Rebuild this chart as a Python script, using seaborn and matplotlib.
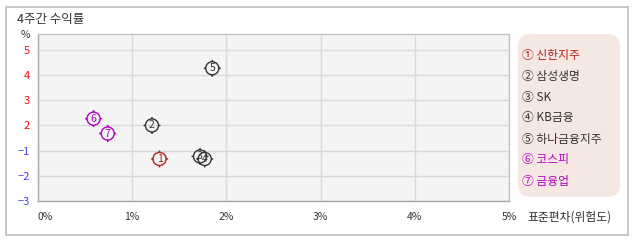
import numpy as np
import pandas as pd
import seaborn as sns
import matplotlib
matplotlib.use("Agg")
import matplotlib.pyplot as plt
from matplotlib.path import Path
from matplotlib.patches import Rectangle, FancyBboxPatch

# ---- data ----
labels = ["1", "2", "3", "4", "5", "6", "7"]
names = ["신한지주", "삼성생명", "SK", "KB금융", "하나금융지주", "코스피", "금융업"]
circled = ["①", "②", "③", "④", "⑤", "⑥", "⑦"]
risk = [1.29, 1.21, 1.72, 1.77, 1.85, 0.59, 0.74]        # 표준편차 (%)
ret = [-1.33, 2.0, -1.23, -1.33, 4.27, 2.27, 1.04]        # 4주간 수익률 (%)
colors = ["#b8201c", "#333333", "#333333", "#333333", "#333333", "#b400c4", "#b400c4"]
xticks = [0, 1, 2, 3, 4, 5]
xtick_labels = ["0%", "1%", "2%", "3%", "4%", "5%"]
yticks = [-3, -2, -1, 2, 3, 4, 5]
ytick_labels = ["−3", "−2", "−1", "2", "3", "4", "5"]

sns.set_style("white")
plt.rcParams["font.family"] = ["Noto Sans CJK KR", "DejaVu Sans"]

W, H = 638, 242
fig = plt.figure(figsize=(W / 100, H / 100), dpi=100)

def fx(x):
    return x / W

def fy(y):
    return 1 - y / H

# outer frame
fig.patches.append(Rectangle((fx(6), fy(235)), fx(622), 228 / H, transform=fig.transFigure,
                             fill=False, edgecolor="#bdbdbd", lw=1.2))

ax = fig.add_axes([fx(38), fy(201), fx(509 - 38), (201 - 34.3) / H])
ax.set_facecolor("#f4f4f4")

# y scale: -3..-1 and 2..5 evenly spaced, gap -1..2 compressed into one step
def fwd(v):
    v = np.asarray(v, dtype=float)
    return np.where(v >= 2, v - 2, np.where(v <= -1, v, -1 + (v + 1) / 3))

def inv(p):
    p = np.asarray(p, dtype=float)
    return np.where(p >= 0, p + 2, np.where(p <= -1, p, -1 + (p + 1) * 3))

ax.set_yscale("function", functions=(fwd, inv))

# marker: circle with four small ticks
circ = Path.unit_circle()
ticks = Path([(0, 1), (0, 1.3), (0, -1), (0, -1.3), (1, 0), (1.3, 0), (-1, 0), (-1.3, 0)],
             [Path.MOVETO, Path.LINETO] * 4)
marker = Path.make_compound_path(circ, ticks)

df = pd.DataFrame({"risk": risk, "ret": ret, "label": labels})
sns.scatterplot(data=df, x="risk", y="ret", hue="label", palette=colors, marker=marker,
                s=150, linewidth=1.0, legend=False, ax=ax, zorder=3)
coll = ax.collections[0]
coll.set_facecolors("none")
coll.set_edgecolors(colors)
coll.set_linewidths(1.0)
for x, y, t, c in zip(risk, ret, labels, colors):
    ax.text(x, y, t, color=c, fontsize=7.5, ha="center", va="center", zorder=4)

ax.set_xlim(0, 5)
ax.set_ylim(-3, 5.62)
ax.set_xticks(xticks)
ax.set_yticks(yticks)
ax.set_xticklabels([])
ax.set_yticklabels(ytick_labels, fontsize=8)
for lab, v in zip(ax.get_yticklabels(), yticks):
    lab.set_color("#ee1111" if v > 0 else "#4040ee")
ax.tick_params(axis="y", length=0, pad=6)
ax.tick_params(axis="x", length=0)
ax.grid(True, color="#dadada", lw=1)
ax.set_axisbelow(True)
for side in ["top", "right"]:
    ax.spines[side].set_color("#c4c4c4")
for side in ["left", "bottom"]:
    ax.spines[side].set_color("#a8a8a8")
for sp in ax.spines.values():
    sp.set_linewidth(1)
ax.set_xlabel("")
ax.set_ylabel("")

# x tick labels
for v, t in zip(xticks, xtick_labels):
    xpix = 38 + v * 94.2
    ha = "left" if v == 0 else "center"
    fig.text(fx(xpix), fy(217), t, fontsize=7.5, color="#333333", ha=ha, va="center")

fig.text(fx(527), fy(217), "표준편차(위험도)", fontsize=8.5, color="#333333", ha="left", va="center")
fig.text(fx(17), fy(19), "4주간 수익률", fontsize=9, color="#333333", ha="left", va="center")
fig.text(fx(25), fy(35), "%", fontsize=7.5, color="#333333", ha="center", va="center")

# legend box
fig.patches.append(FancyBboxPatch((fx(518), fy(197)), fx(620 - 518), (197 - 34) / H,
                                  boxstyle="round,pad=0,rounding_size=0.02",
                                  transform=fig.transFigure, facecolor="#f5e8e2",
                                  edgecolor="none", mutation_aspect=W / H))
for i, (cc, nm, col) in enumerate(zip(circled, names, colors)):
    fig.text(fx(522), fy(55 + i * 21), cc + " " + nm, fontsize=8.5, color=col,
             ha="left", va="center")

fig.savefig("out.png", dpi=100)
